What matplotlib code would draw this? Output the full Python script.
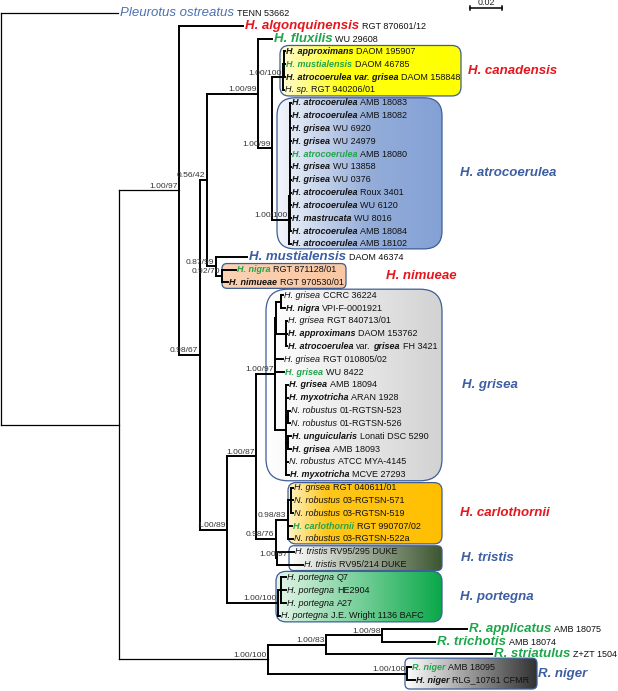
import numpy as np
import matplotlib
matplotlib.use('Agg')
import matplotlib.pyplot as plt
from matplotlib.patches import FancyBboxPatch
from matplotlib.offsetbox import TextArea, HPacker, AnnotationBbox
from matplotlib.colors import to_rgb

plt.rcParams['font.family'] = ['Liberation Sans', 'DejaVu Sans']

# ---- data -------------------------------------------------------------
# tree, branch lengths in substitutions/site; leaves are row indexes into the tip lists
tree = ("(0:0.0731,((1:0.04,(((2:0.0088,"
        "(((3:0.0006,4:0.0006,5:0.0006):0.0006,6:0.0006)1.00/100:0.0069,"
        "(((7:0.0006,8:0.0006,9:0.0006,10:0.0006,11:0.0006,12:0.0006,13:0.0006,"
        "14:0.0006,15:0.0006,16:0.0006):0.0003,17:0.001):0.0003,18:0.0012)1.00/100:0.0106"
        ")1.00/99:0.0088)1.00/99:0.0319,"
        "(19:0.0194,(20:0.0088,21:0.0038)0.92/70:0.0038)0.87/99:0.0056)0.56/42:0.0044,"
        "(((((22:0.0013,23:0.0025):0.0031,(24:0.0006,25:0.0006,26:0.0006):0.0063):0.0006,"
        "27:0.005,28:0.0056,"
        "(29:0.0013,30:0.0013,(31:0.0013,32:0.0013):0.0013,(33:0.0019,34:0.0019):0.0013,"
        "35:0.0013,36:0.0019):0.0069)1.00/97:0.0119,"
        "(((37:0.0013,38:0.0013,39:0.0013):0.0019,40:0.0025,41:0.0031)0.98/83:0.0075,"
        "(42:0.0106,43:0.0163)1.00/97*:0.0006)0.98/76:0.0125)1.00/87:0.0181,"
        "((44:0.0031,45:0.0031,46:0.0031):0.0019,47:0.0013)1.00/100:0.0319)1.00/89:0.0169"
        ")0.98/67:0.0131)1.00/97:0.0375,"
        "(((48:0.0531,49:0.0331)1.00/98:0.035,50:0.1038)1.00/83:0.0363,"
        "(51:0.0025,52:0.005)1.00/100:0.0869)1.00/100:0.0931):0.0738);")

tip_names = [
    'Pleurotus ostreatus', 'H. algonquinensis', 'H. fluxilis',
    'H. approximans', 'H. mustialensis', 'H. atrocoerulea var. grisea', 'H. sp.',
    'H. atrocoerulea', 'H. atrocoerulea', 'H. grisea', 'H. grisea', 'H. atrocoerulea',
    'H. grisea', 'H. grisea', 'H. atrocoerulea', 'H. atrocoerulea', 'H. mastrucata',
    'H. atrocoerulea', 'H. atrocoerulea',
    'H. mustialensis', 'H. nigra', 'H. nimueae',
    'H. grisea', 'H. nigra', 'H. grisea', 'H. approximans', 'H. atrocoerulea var. grisea',
    'H. grisea', 'H. grisea', 'H. grisea', 'H. myxotricha', 'N. robustus', 'N. robustus',
    'H. unguicularis', 'H. grisea', 'N. robustus', 'H. myxotricha',
    'H. grisea', 'N. robustus', 'N. robustus', 'H. carlothornii', 'N. robustus',
    'H. tristis', 'H. tristis',
    'H. portegna', 'H. portegna', 'H. portegna', 'H. portegna',
    'R. applicatus', 'R. trichotis', 'R. striatulus', 'R. niger', 'H. niger']
tip_vouchers = [
    'TENN 53662', 'RGT 870601/12', 'WU 29608',
    'DAOM 195907', 'DAOM 46785', 'DAOM 158848', 'RGT 940206/01',
    'AMB 18083', 'AMB 18082', 'WU 6920', 'WU 24979', 'AMB 18080',
    'WU 13858', 'WU 0376', 'Roux 3401', 'WU 6120', 'WU 8016',
    'AMB 18084', 'AMB 18102',
    'DAOM 46374', 'RGT 871128/01', 'RGT 970530/01',
    'CCRC 36224', 'VPI-F-0001921', 'RGT 840713/01', 'DAOM 153762', 'FH 3421',
    'RGT 010805/02', 'WU 8422', 'AMB 18094', 'ARAN 1928', '01-RGTSN-523', '01-RGTSN-526',
    'Lonati DSC 5290', 'AMB 18093', 'ATCC MYA-4145', 'MCVE 27293',
    'RGT 040611/01', '03-RGTSN-571', '03-RGTSN-519', 'RGT 990707/02', '03-RGTSN-522a',
    'RV95/295 DUKE', 'RV95/214 DUKE',
    'Q7', 'HE2904', 'A27', 'J.E. Wright 1136 BAFC',
    'AMB 18075', 'AMB 18074', 'Z+ZT 1504', 'AMB 18095', 'RLG_10761 CFMR']
# b = bold italic, i = italic, m = bold italic with plain "var."
tip_font = ("ibbbbbi" + "b" * 12 + "bbb" + "ibibmi" + "bbbii" + "bbib" + "iiibi"
            + "ii" + "iiii" + "bbbbb")
tip_color = ("urgkgkk" + "kkkkgkkkkkkk" + "Bgk" + "kkkkkk" + "gkkkk" + "kkkk" + "kkkgk"
             + "kk" + "kkkk" + "ggggk")
big_tips = [0, 1, 2, 19, 48, 49, 50]

clade_names = ['H. canadensis', 'H. atrocoerulea', 'H. nimueae', 'H. grisea',
               'H. carlothornii', 'H. tristis', 'H. portegna', 'R. niger']
clade_rows = [(3, 6), (7, 18), (20, 21), (22, 36), (37, 41), (42, 43), (44, 47), (51, 52)]
clade_colors = ['r', 'B', 'r', 'B', 'r', 'B', 'B', 'B']

scale_len = 0.02

# ---- layout / style -----------------------------------------------------
PX_X = 1600.0          # px per substitution unit
ROW = 12.83            # px per tip row
COL = {'k': '#111111', 'g': '#1ea64b', 'r': '#e5161e', 'B': '#3d5ea3', 'u': '#4d70b2'}
BIG, SMALL, SUP = 9.5, 6.5, 6.1

# box: left px, right px, pad px, corner px, gradient stops (pos, colour)
box_left = [280, 277, 222, 266, 288, 289, 276, 405]
box_right = [461, 442, 346, 442, 442, 442, 442, 537]
box_pad = [6, 5, 6, 6, 5, 6, 6, 9]
box_round = [9, 18, 5, 22, 8, 5, 10, 5]
box_grad = [
    [(0, '#fffbd8'), (0.35, '#ffff10'), (1, '#ffff00')],
    [(0, '#f4f7fc'), (0.55, '#94add9'), (1, '#84a1d6')],
    [(0, '#fbd2b3'), (1, '#f9c7a3')],
    [(0, '#ffffff'), (1, '#d2d2d2')],
    [(0, '#fff3c8'), (0.25, '#ffc61a'), (1, '#ffbf00')],
    [(0, '#ffffff'), (1, '#3d5630')],
    [(0, '#e4f6e9'), (1, '#0aa84a')],
    [(0, '#ffffff'), (1, '#303030')],
]
label_px = [468, 460, 386, 462, 460, 461, 460, 538]


def parse(s):
    pos = 0

    def node():
        nonlocal pos
        kids = []
        if s[pos] == '(':
            pos += 1
            kids.append(node())
            while s[pos] == ',':
                pos += 1
                kids.append(node())
            pos += 1
        st = pos
        while s[pos] not in ':,);':
            pos += 1
        name = s[st:pos]
        bl = 0.0
        if s[pos] == ':':
            pos += 1
            st = pos
            while s[pos] not in ',);':
                pos += 1
            bl = float(s[st:pos])
        return {'kids': kids, 'name': name, 'bl': bl}
    return node()


def place(n, base):
    n['x'] = base + n['bl']
    if n['kids']:
        for k in n['kids']:
            place(k, n['x'])
        n['y'] = (n['kids'][0]['y'] + n['kids'][-1]['y']) / 2
    else:
        n['y'] = int(n['name'])


root = parse(tree)
place(root, 0.0)

fig = plt.figure(figsize=(6.18, 6.91), dpi=100)
ax = fig.add_axes([0, 0, 1, 1])
ax.axis('off')
xl = (-1 / PX_X, 617 / PX_X)
yl = (52 + 11 / ROW, -13 / ROW)


def px2x(p):
    return (p - 1) / PX_X


# ---- clade boxes ---------------------------------------------------------
ma = (1 / ROW) / (1 / PX_X)
for i in range(len(clade_names)):
    r0, r1 = clade_rows[i]
    x0, x1 = px2x(box_left[i]), px2x(box_right[i])
    y0 = r0 - box_pad[i] / ROW
    y1 = r1 + box_pad[i] / ROW
    patch = FancyBboxPatch((x0, y0), x1 - x0, y1 - y0,
                           boxstyle='round,pad=0,rounding_size=%f' % (box_round[i] / PX_X),
                           mutation_aspect=ma, fc='none', ec='#3f5d96', lw=0.9, zorder=2)
    ax.add_patch(patch)
    t = np.linspace(0, 1, 200)
    pos = [p for p, c in box_grad[i]]
    cols = np.array([to_rgb(c) for p, c in box_grad[i]])
    grad = np.stack([np.interp(t, pos, cols[:, k]) for k in range(3)], axis=-1)[None, :, :]
    im = ax.imshow(grad, extent=(x0, x1, y1, y0), aspect='auto', zorder=1,
                   interpolation='bilinear')
    im.set_clip_path(patch)
    ax.text(px2x(label_px[i]), (r0 + r1) / 2, clade_names[i], fontsize=BIG,
            fontweight='bold', fontstyle='italic', color=COL[clade_colors[i]],
            va='center', ha='left', zorder=5)


# ---- branches ------------------------------------------------------------
def draw(n, level=0):
    lw = 0.9 if level < 2 else 1.4
    for k in n['kids']:
        ax.plot([n['x'], k['x']], [k['y'], k['y']], color='black', lw=lw,
                solid_capstyle='projecting', zorder=3)
        draw(k, level + 1)
    if n['kids']:
        ax.plot([n['x'], n['x']], [n['kids'][0]['y'], n['kids'][-1]['y']],
                color='black', lw=lw, solid_capstyle='projecting', zorder=3)
        lab = n['name']
        if lab:
            dx = 8 if lab.endswith('*') else -1.2
            ax.annotate(lab.rstrip('*'), (n['x'], n['y']), xytext=(dx, 0.4),
                        textcoords='offset points', ha='right', va='bottom',
                        fontsize=SUP, color='#333333', zorder=4)
    else:
        tip_label(n)


def tip_label(n):
    i = int(n['name'])
    is_big = i in big_tips
    size = BIG if is_big else SMALL
    col = COL[tip_color[i]]
    name = tip_names[i]
    w = 'bold' if tip_font[i] in 'bm' else 'normal'
    parts = []
    if tip_font[i] == 'm':
        a, b = name.split(' var. ')
        parts += [(a, size, col, 'bold', 'italic'), ('var.', size, col, 'normal', 'normal'),
                  (b, size, col, 'bold', 'italic')]
    else:
        parts.append((name, size, col, w, 'italic'))
    parts.append((tip_vouchers[i], SMALL, COL['k'], 'normal', 'normal'))
    areas = [TextArea(s, textprops=dict(fontsize=fs, color=c, fontweight=fw, fontstyle=st))
             for s, fs, c, fw, st in parts]
    pack = HPacker(children=areas, align='baseline', pad=0, sep=1.7 if is_big else 1.9)
    gap = 1.6 if is_big else 0.8
    ab = AnnotationBbox(pack, (n['x'], n['y']), xybox=(gap, 0), xycoords='data',
                        boxcoords='offset points', box_alignment=(0, 0.5),
                        frameon=False, pad=0, annotation_clip=False, zorder=4)
    ax.add_artist(ab)


draw(root)

# ---- scale bar -----------------------------------------------------------
sx0 = px2x(470)
sy = (8 - 13) / ROW
ax.plot([sx0, sx0 + scale_len], [sy, sy], color='black', lw=1.1)
for xx in (sx0, sx0 + scale_len):
    ax.plot([xx, xx], [sy - 2 / ROW, sy + 2 / ROW], color='black', lw=1.1)
ax.text(sx0 + scale_len / 2, sy - 0.5 / ROW, '%.2f' % scale_len, fontsize=6.4,
        ha='center', va='bottom', color='#222222')

ax.set_xlim(*xl)
ax.set_ylim(*yl)
ax.set_aspect('auto')
fig.savefig('out.png', dpi=100, facecolor='white')
